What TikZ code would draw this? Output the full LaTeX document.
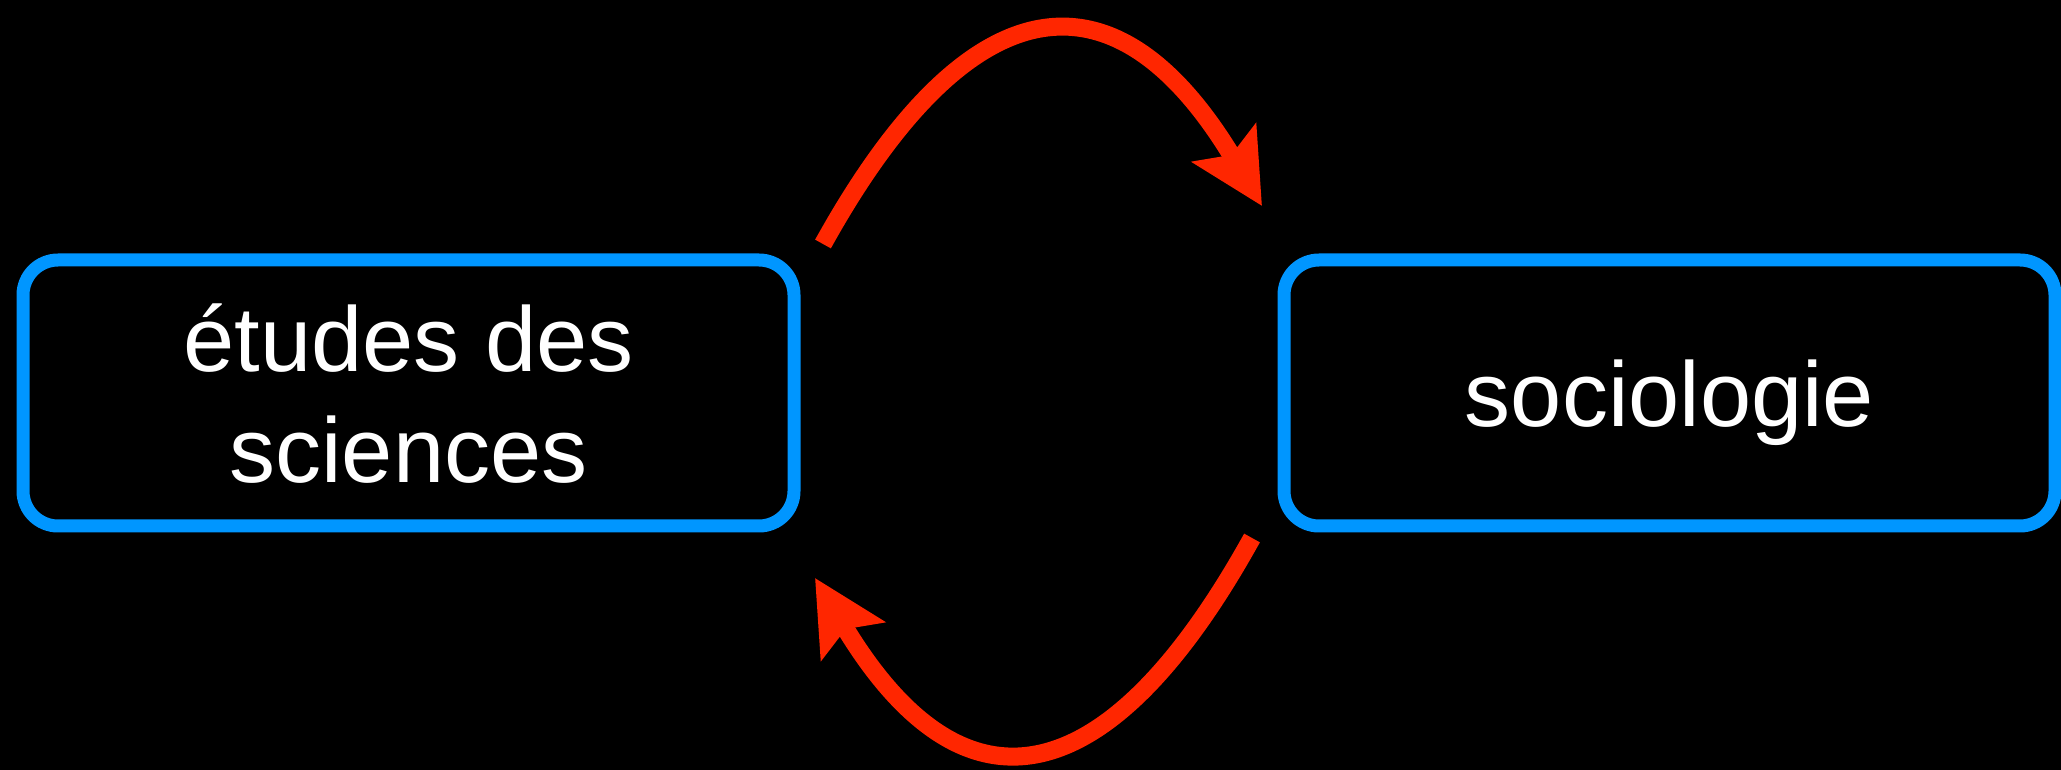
\documentclass[tikz,border=0pt]{standalone}
\usepackage{fontspec}
\setmainfont{Liberation Sans}
\usetikzlibrary{arrows.meta}
\definecolor{boxblue}{RGB}{0,150,255}
\definecolor{arrowred}{RGB}{255,38,0}

\begin{document}
\begin{tikzpicture}[x=1pt,y=1pt,
    field/.style={draw=boxblue,line width=13pt,rounded corners=35pt,minimum width=771pt,minimum height=266pt,inner sep=0pt,outer sep=0pt,text=white,align=center,font=\fontsize{92}{110.4}\selectfont,text depth=0pt},
    feedback/.style={draw=arrowred,line width=18pt,-{Stealth[length=73pt,width=73pt,inset=13.5pt]}}]
    \useasboundingbox (0,0) rectangle (2061,769);
    \fill[black] (-2,-2) rectangle (2063,771);
        \node[field] (etudes) at (408.5,376) {études des\\sciences};
        \node[field] (socio) at (1669.5,376) {sociologie};
        \draw[feedback] ([shift={(29,16)}]etudes.north east) .. controls +(61:292) and +(121:292) .. ([shift={(-22,54)}]socio.north west);
        \draw[feedback] ([shift={(-32,-12)}]socio.south west) .. controls +(241:292) and +(301:292) .. ([shift={(21,-52)}]etudes.south east);
    \end{tikzpicture}
\end{document}
